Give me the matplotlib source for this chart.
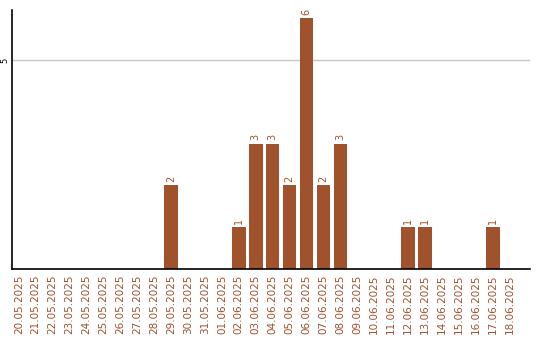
import matplotlib
matplotlib.use("Agg")
import matplotlib.pyplot as plt
import numpy as np

dates = ["20.05.2025", "21.05.2025", "22.05.2025", "23.05.2025", "24.05.2025",
         "25.05.2025", "26.05.2025", "27.05.2025", "28.05.2025", "29.05.2025",
         "30.05.2025", "31.05.2025", "01.06.2025", "02.06.2025", "03.06.2025",
         "04.06.2025", "05.06.2025", "06.06.2025", "07.06.2025", "08.06.2025",
         "09.06.2025", "10.06.2025", "11.06.2025", "12.06.2025", "13.06.2025",
         "14.06.2025", "15.06.2025", "16.06.2025", "17.06.2025", "18.06.2025"]
counts = [0, 0, 0, 0, 0, 0, 0, 0, 0, 2,
          0, 0, 0, 1, 3, 3, 2, 6, 2, 3,
          0, 0, 0, 1, 1, 0, 0, 0, 1, 0]

color = "#A0522D"

fig = plt.figure(figsize=(5.4, 3.4), dpi=100)
ax = fig.add_axes([0.0222, 0.2088, 0.9593, 0.7618])

x = np.arange(len(dates))
ax.bar(x, counts, width=0.8, color=color, zorder=2)

for xi, c in zip(x, counts):
    if c > 0:
        ax.text(xi, c + 0.08, str(c), rotation=90, ha="center", va="bottom",
                fontsize=7, color=color)

ax.set_xlim(-0.4, 30.2)
ax.set_ylim(0, 6.2)
ax.set_yticks([5])
ax.set_yticklabels(["5"], rotation=90, va="center", ha="center", fontsize=6)
ax.yaxis.grid(True, color="#c8c8c8", linewidth=1, zorder=0)
ax.tick_params(axis="y", length=0, pad=5)

ax.set_xticks(x)
ax.set_xticklabels(dates, rotation=90, fontsize=7.5, color=color)
ax.tick_params(axis="x", length=0, pad=4)

for side in ["top", "right"]:
    ax.spines[side].set_visible(False)
ax.spines["left"].set_linewidth(1.2)
ax.spines["bottom"].set_linewidth(1.2)

fig.savefig("out.png", dpi=100)
